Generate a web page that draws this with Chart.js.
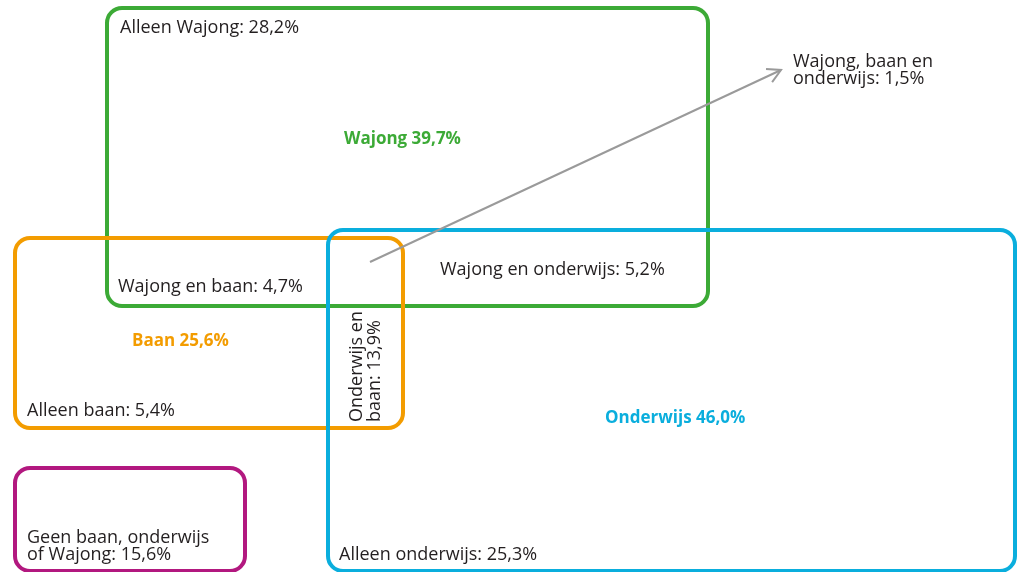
<!DOCTYPE html>
<html>
<head>
<meta charset="utf-8">
<script src="https://cdn.jsdelivr.net/npm/chart.js@4"></script>
<style>
  body { margin: 0; background: #fff; }
</style>
</head>
<body>
<canvas id="venn" width="1018" height="572"></canvas>
<script>
// waarden (percentages)
const groupNames = ['Wajong', 'Baan', 'Onderwijs'];
const groupValues = [39.7, 25.6, 46.0];
const segmentNames = ['Alleen Wajong', 'Wajong en baan', 'Wajong en onderwijs', 'Alleen baan',
  'Onderwijs en baan', 'Alleen onderwijs', 'Wajong, baan en onderwijs', 'Geen baan, onderwijs of Wajong'];
const segmentValues = [28.2, 4.7, 5.2, 5.4, 13.9, 25.3, 1.5, 15.6];

// opmaak (in as-eenheden)
const boxColors = ['#3CAA36', '#F39C00', '#0AAEDD', '#B2187F'];
const boxExtents = [[107, 8, 708, 306], [15, 238, 403, 428], [328, 230, 1015, 571], [15, 468, 245, 571]];
const groupLabelPos = [[344, 144], [132, 346], [605, 423]];
const segmentLabelPos = [[120, 33], [118, 292], [440, 275], [27, 416], [362, 422], [339, 560], [793, 67], [27, 543]];
const segmentWrap = [0, 0, 0, 0, 125, 0, 155, 195];
const arrowPath = [{ x: 370, y: 262 }, { x: 781, y: 70 }];

const fontFamily = "'Open Sans', sans-serif";
const textColor = '#231F20';
const pct = v => v.toFixed(1).replace('.', ',') + '%';

function wrap(ctx, text, maxWidth) {
  if (!maxWidth) return [text];
  const words = text.split(' ');
  const lines = [];
  let line = words[0];
  for (let i = 1; i < words.length; i++) {
    const test = line + ' ' + words[i];
    if (ctx.measureText(test).width > maxWidth) {
      lines.push(line);
      line = words[i];
    } else {
      line = test;
    }
  }
  lines.push(line);
  return lines;
}

const vennPlugin = {
  id: 'venn',
  beforeDatasetsDraw(chart) {
    const { ctx, scales: { x, y } } = chart;
    ctx.save();
    ctx.lineWidth = 4;
    boxExtents.forEach((b, i) => {
      const l = x.getPixelForValue(b[0]), t = y.getPixelForValue(b[1]);
      const r = x.getPixelForValue(b[2]), btm = y.getPixelForValue(b[3]);
      ctx.strokeStyle = boxColors[i];
      ctx.beginPath();
      ctx.roundRect(l, t, r - l, btm - t, 15);
      ctx.stroke();
    });
    ctx.restore();
  },
  afterDatasetsDraw(chart) {
    const { ctx, scales: { x, y } } = chart;
    ctx.save();
    // pijlpunt
    const meta = chart.getDatasetMeta(0).data;
    const p0 = meta[0], p1 = meta[1];
    const ang = Math.atan2(p1.y - p0.y, p1.x - p0.x);
    ctx.strokeStyle = '#9A9A9A';
    ctx.lineWidth = 2;
    ctx.beginPath();
    ctx.moveTo(p1.x - 15 * Math.cos(ang - 0.5), p1.y - 15 * Math.sin(ang - 0.5));
    ctx.lineTo(p1.x, p1.y);
    ctx.lineTo(p1.x - 15 * Math.cos(ang + 0.5), p1.y - 15 * Math.sin(ang + 0.5));
    ctx.stroke();

    ctx.textBaseline = 'alphabetic';
    ctx.textAlign = 'left';
    // groepstitels
    ctx.font = 'bold 17px ' + fontFamily;
    groupNames.forEach((n, i) => {
      ctx.fillStyle = boxColors[i];
      ctx.fillText(n + ' ' + pct(groupValues[i]),
        x.getPixelForValue(groupLabelPos[i][0]), y.getPixelForValue(groupLabelPos[i][1]));
    });
    // segmenten
    ctx.font = '18px ' + fontFamily;
    ctx.fillStyle = textColor;
    segmentNames.forEach((n, i) => {
      const lines = wrap(ctx, n + ': ' + pct(segmentValues[i]), segmentWrap[i]);
      const px = x.getPixelForValue(segmentLabelPos[i][0]);
      const py = y.getPixelForValue(segmentLabelPos[i][1]);
      if (n === 'Onderwijs en baan') {
        ctx.save();
        ctx.translate(px, py);
        ctx.rotate(-Math.PI / 2);
        lines.forEach((ln, k) => ctx.fillText(ln, 0, k * 18));
        ctx.restore();
      } else {
        lines.forEach((ln, k) => ctx.fillText(ln, px, py + k * 17));
      }
    });
    ctx.restore();
  }
};

new Chart(document.getElementById('venn'), {
  type: 'scatter',
  data: {
    datasets: [{
      data: arrowPath,
      showLine: true,
      borderColor: '#9A9A9A',
      borderWidth: 2,
      pointRadius: 0,
    }],
  },
  options: {
    responsive: false,
    animation: false,
    layout: { padding: 0 },
    scales: {
      x: { type: 'linear', min: 0, max: 1018, display: false },
      y: { type: 'linear', min: 0, max: 572, reverse: true, display: false },
    },
    plugins: {
      legend: { display: false },
      tooltip: { enabled: false },
    },
  },
  plugins: [vennPlugin],
});
</script>
</body>
</html>
